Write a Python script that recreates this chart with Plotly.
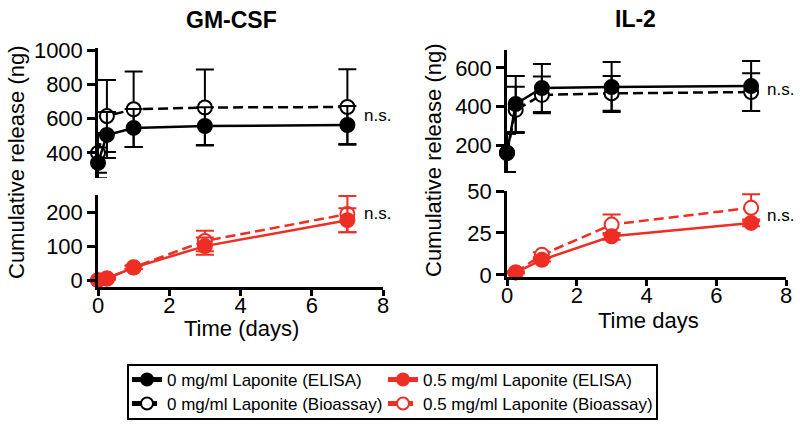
import plotly.graph_objects as go

# ---------------- data ----------------
t_gm = [0, 0.25, 1, 3, 7]
gm_elisa_0 = [342, 505, 546, 557, 563]
gm_elisa_0_err = [90, 134, 111, 110, 111]
gm_bio_0 = [400, 615, 655, 665, 668]
gm_bio_0_err = [116, 210, 220, 222, 220]
gm_elisa_05 = [0, 5, 37, 100, 176]
gm_elisa_05_err = [2, 3, 5, 25, 35]
gm_bio_05 = [0, 5, 38, 115, 194]
gm_bio_05_err = [2, 3, 5, 30, 53]

t_il = [0, 0.25, 1, 3, 7]
il_elisa_0 = [158, 413, 496, 501, 506]
il_elisa_0_err = [100, 145, 124, 130, 130]
il_bio_0 = [160, 382, 460, 468, 475]
il_bio_0_err = [100, 120, 95, 90, 98]
t_il_red = [0.25, 1, 3, 7]
il_elisa_05 = [1.5, 9, 23, 31]
il_elisa_05_err = [0.5, 1, 2, 2]
il_bio_05 = [1.5, 12, 30, 40]
il_bio_05_err = [0.5, 1.5, 6, 8]

x_ticks = [0, 2, 4, 6, 8]
gm_top_ticks = [400, 600, 800, 1000]
gm_bot_ticks = [0, 100, 200]
il_top_ticks = [200, 400, 600]
il_bot_ticks = [0, 25, 50]

series_names = ["0 mg/ml Laponite (ELISA)", "0 mg/ml Laponite (Bioassay)",
                "0.5 mg/ml Laponite (ELISA)", "0.5 mg/ml Laponite (Bioassay)"]
panel_titles = ["GM-CSF", "IL-2"]
x_titles = ["Time (days)", "Time days"]
y_title = "Cumulative release (ng)"

W, H = 800, 428
OFF = 0  # page body margin removed via post_script
BLACK = "#000000"
RED = "#EE2E24"
FONT = "Liberation Sans, Arial, sans-serif"


def px(x):
    return (x - OFF) / W


def py(y):
    return 1 - (y - OFF) / H


fig = go.Figure()


def add_series(x, y, err, color, filled, dashed, xa, ya, name, legend, show):
    fig.add_trace(go.Scatter(
        x=x, y=y, mode="lines+markers", name=name,
        xaxis=xa, yaxis=ya, cliponaxis=False,
        line=dict(color=color, width=2.5, dash="10px,5px" if dashed else "solid"),
        marker=dict(symbol="circle", size=14,
                    color=color if filled else "white",
                    line=dict(color=color, width=2)),
        error_y=dict(type="data", array=err, visible=True, color=color,
                     thickness=2, width=9),
        legend=legend, showlegend=show,
    ))


# open first, solid on top
add_series(t_gm, gm_bio_0, gm_bio_0_err, BLACK, False, True, "x3", "y3", series_names[1], "legend2", True)
add_series(t_gm, gm_elisa_0, gm_elisa_0_err, BLACK, True, False, "x3", "y3", series_names[0], "legend", True)
add_series(t_gm, gm_bio_05, gm_bio_05_err, RED, False, True, "x", "y", series_names[3], "legend4", True)
add_series(t_gm, gm_elisa_05, gm_elisa_05_err, RED, True, False, "x", "y", series_names[2], "legend3", True)
add_series(t_il, il_bio_0, il_bio_0_err, BLACK, False, True, "x4", "y4", series_names[1], "legend2", False)
add_series(t_il, il_elisa_0, il_elisa_0_err, BLACK, True, False, "x4", "y4", series_names[0], "legend", False)
add_series(t_il_red, il_bio_05, il_bio_05_err, RED, False, True, "x2", "y2", series_names[3], "legend4", False)
add_series(t_il_red, il_elisa_05, il_elisa_05_err, RED, True, False, "x2", "y2", series_names[2], "legend3", False)

tickfont = dict(family=FONT, size=22, color="black")
ax_common = dict(showline=True, linewidth=2.5, linecolor="black", ticks="outside",
                 tickwidth=2.5, tickcolor="black", showgrid=False,
                 zeroline=False, tickfont=tickfont, automargin=False)
x_common = dict(ticklen=6, ticklabelstandoff=-9, **ax_common)
y_common = dict(ticklen=8, **ax_common)

left_x = [px(98), px(383)]
right_x = [px(507), px(786)]


def leg(x, y):
    return dict(x=px(x), y=py(y), xanchor="left", yanchor="middle",
                orientation="v", bgcolor="rgba(0,0,0,0)", borderwidth=0,
                font=dict(family=FONT, size=17, color="black"),
                itemsizing="constant", itemwidth=30)


fig.update_layout(
    width=W, height=H,
    margin=dict(l=0, r=0, t=0, b=0, autoexpand=False),
    paper_bgcolor="white", plot_bgcolor="white",
    font=dict(family=FONT, color="black"),
    xaxis=dict(domain=left_x, range=[0, 8], tickvals=x_ticks, anchor="y", **x_common),
    yaxis=dict(domain=[py(287), py(195)], range=[-20, 250], tickvals=gm_bot_ticks, anchor="x", **y_common),
    xaxis2=dict(domain=right_x, range=[0, 8], tickvals=x_ticks, anchor="y2", **x_common),
    yaxis2=dict(domain=[py(277), py(191)], range=[-1.2, 50], tickvals=il_bot_ticks, anchor="x2", **y_common),
    xaxis3=dict(domain=left_x, range=[0, 8], anchor="y3", visible=False),
    yaxis3=dict(domain=[py(178), py(48)], range=[254, 1012], tickvals=gm_top_ticks, anchor="x3", **y_common),
    xaxis4=dict(domain=right_x, range=[0, 8], anchor="y4", visible=False),
    yaxis4=dict(domain=[py(173), py(50)], range=[55, 693], tickvals=il_top_ticks, anchor="x4", **y_common),
    legend=leg(127, 380),
    legend2=leg(127, 404),
    legend3=leg(383, 380),
    legend4=leg(383, 404),
    showlegend=True,
)

# legend frame
fig.add_shape(type="rect", xref="paper", yref="paper",
              x0=px(128), x1=px(657), y0=py(419), y1=py(365),
              line=dict(color="black", width=2))


def text_ann(text, x, y, size, angle=0, xanchor="center"):
    return dict(text=text, x=px(x), y=py(y), xref="paper", yref="paper",
                xanchor=xanchor, yanchor="middle", textangle=angle,
                showarrow=False, font=dict(family=FONT, size=size, color="black"))


ann = [
    text_ann("<b>" + panel_titles[0] + "</b>", 231, 20, 23),
    text_ann("<b>" + panel_titles[1] + "</b>", 635, 19, 23),
    text_ann(y_title, 16, 162, 22, angle=-90),
    text_ann(y_title, 433, 160, 22, angle=-90),
    text_ann(x_titles[0], 241, 328, 22),
    text_ann(x_titles[1], 648, 320, 22),
]
for (x, y) in [(362, 116), (362, 213), (765, 90), (765, 215)]:
    ann.append(text_ann("n.s.", x, y, 17, xanchor="left"))
fig.update_layout(annotations=ann)

fig.write_html("out.html", config={"displayModeBar": False},
               post_script="document.body.style.margin='0px';")
